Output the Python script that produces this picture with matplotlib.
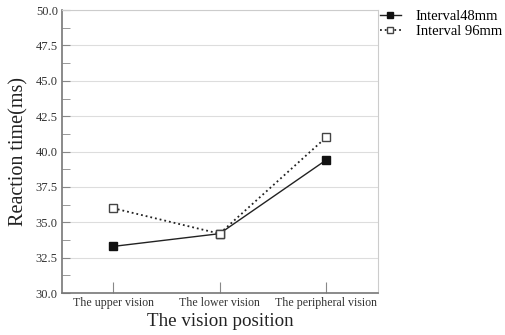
import matplotlib
matplotlib.use('Agg')
import matplotlib.pyplot as plt
from matplotlib.ticker import MultipleLocator

plt.rcParams['font.family'] = ['Liberation Serif', 'DejaVu Serif']

# Data
positions = ['The upper vision', 'The lower vision', 'The peripheral vision']
interval_48 = [33.3, 34.2, 39.4]
interval_96 = [36.0, 34.2, 41.0]

fig = plt.figure(figsize=(5.06, 3.35), dpi=100)
ax = fig.add_axes([0.1225, 0.125, 0.625, 0.845])

x = range(len(positions))
ax.plot(x, interval_48, '-', color='#222222', lw=1.0, marker='s', ms=6,
        mfc='#111111', mec='#111111', label='Interval48mm')
ax.plot(x, interval_96, ':', color='#222222', lw=1.3, marker='s', ms=6,
        mfc='white', mec='#444444', label='Interval 96mm')

ax.set_xlim(-0.48, 2.49)
ax.set_ylim(30, 50)
ax.yaxis.set_major_locator(MultipleLocator(2.5))
ax.yaxis.set_minor_locator(MultipleLocator(1.25))
ax.set_xticks(list(x))
ax.set_xticklabels(positions, fontsize=8.6, color='#333333')
ax.set_yticks([30 + 2.5 * i for i in range(9)])
ax.set_yticklabels([f'{30 + 2.5 * i:.1f}' for i in range(9)], fontsize=9, color='#333333')

ax.grid(axis='y', which='major', color='#dddddd', lw=0.8)
ax.set_axisbelow(True)
ax.tick_params(axis='both', which='both', direction='in', color='#888888')
ax.tick_params(axis='y', which='both', length=6, pad=3)
ax.tick_params(axis='x', length=8, pad=3)

for side in ['left', 'bottom']:
    ax.spines[side].set_color('#777777')
    ax.spines[side].set_linewidth(1.2)
for side in ['top', 'right']:
    ax.spines[side].set_color('#cccccc')
    ax.spines[side].set_linewidth(0.8)

ax.set_ylabel('Reaction time(ms)', fontsize=14.5, color='#222222', labelpad=5)
ax.set_xlabel('The vision position', fontsize=13.7, color='#222222', labelpad=3)

ax.legend(loc='upper left', bbox_to_anchor=(1.005, 1.002), frameon=False,
          fontsize=10.5, handlelength=1.45, handletextpad=1.0, labelspacing=0.15,
          borderpad=0, borderaxespad=0, markerscale=0.7)

plt.savefig('out.png', dpi=100, facecolor='white')
